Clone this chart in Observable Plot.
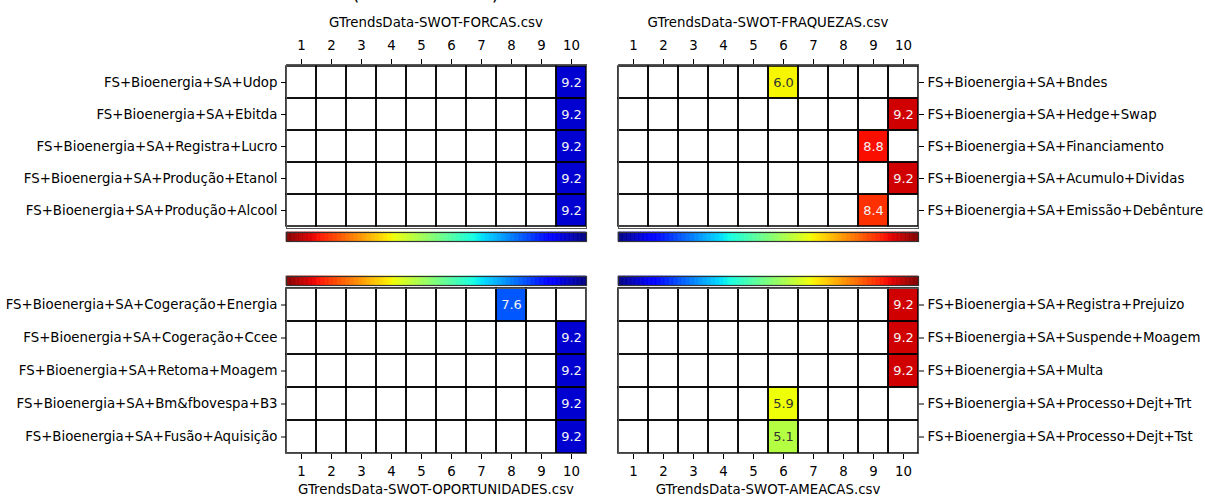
<!DOCTYPE html>
<html><head><meta charset="utf-8">
<script src="https://cdn.jsdelivr.net/npm/d3@7"></script>
<script src="https://cdn.jsdelivr.net/npm/@observablehq/plot@0.6"></script>
<style>
html,body{margin:0;padding:0;background:#fff;overflow:hidden}
#fig{position:relative;width:1205px;height:497px;font-family:"DejaVu Sans",sans-serif;color:#000;overflow:hidden}
#fig > *{position:absolute}
.title{font-size:13.33px;text-align:center;width:300px;line-height:16px;white-space:nowrap}
.sup{font-size:19px;line-height:20px;white-space:nowrap}
</style></head><body><div id="fig"></div>
<script>
// ---------- data ----------
const columns = [1, 2, 3, 4, 5, 6, 7, 8, 9, 10];

const forcasTitle = "GTrendsData-SWOT-FORCAS.csv";
const forcasRows = ["FS+Bioenergia+SA+Udop", "FS+Bioenergia+SA+Ebitda", "FS+Bioenergia+SA+Registra+Lucro", "FS+Bioenergia+SA+Produção+Etanol", "FS+Bioenergia+SA+Produção+Alcool"];
const forcasCols = [10, 10, 10, 10, 10];
const forcasVals = [9.2, 9.2, 9.2, 9.2, 9.2];

const fraquezasTitle = "GTrendsData-SWOT-FRAQUEZAS.csv";
const fraquezasRows = ["FS+Bioenergia+SA+Bndes", "FS+Bioenergia+SA+Hedge+Swap", "FS+Bioenergia+SA+Financiamento", "FS+Bioenergia+SA+Acumulo+Dividas", "FS+Bioenergia+SA+Emissão+Debênture"];
const fraquezasCols = [6, 10, 9, 10, 9];
const fraquezasVals = [6.0, 9.2, 8.8, 9.2, 8.4];

const oportTitle = "GTrendsData-SWOT-OPORTUNIDADES.csv";
const oportRows = ["FS+Bioenergia+SA+Cogeração+Energia", "FS+Bioenergia+SA+Cogeração+Ccee", "FS+Bioenergia+SA+Retoma+Moagem", "FS+Bioenergia+SA+Bm&fbovespa+B3", "FS+Bioenergia+SA+Fusão+Aquisição"];
const oportCols = [8, 10, 10, 10, 10];
const oportVals = [7.6, 9.2, 9.2, 9.2, 9.2];

const ameacasTitle = "GTrendsData-SWOT-AMEACAS.csv";
const ameacasRows = ["FS+Bioenergia+SA+Registra+Prejuizo", "FS+Bioenergia+SA+Suspende+Moagem", "FS+Bioenergia+SA+Multa", "FS+Bioenergia+SA+Processo+Dejt+Trt", "FS+Bioenergia+SA+Processo+Dejt+Tst"];
const ameacasCols = [10, 10, 10, 6, 6];
const ameacasVals = [9.2, 9.2, 9.2, 5.9, 5.1];

const supTitle = "(Análise SWOT)";
const colorDomain = [-1.4, 10];

// ---------- jet colormap ----------
function seg(pts, t) {
  for (let i = 1; i < pts.length; i++) {
    if (t <= pts[i][0]) {
      const [x0, y0] = pts[i - 1], [x1, y1] = pts[i];
      return y0 + (y1 - y0) * (t - x0) / (x1 - x0);
    }
  }
  return pts[pts.length - 1][1];
}
const JR = [[0, 0], [0.35, 0], [0.66, 1], [0.89, 1], [1, 0.5]];
const JG = [[0, 0], [0.125, 0], [0.375, 1], [0.64, 1], [0.91, 0], [1, 0]];
const JB = [[0, 0.5], [0.11, 1], [0.34, 1], [0.65, 0], [1, 0]];
function jet(t) {
  t = Math.max(0, Math.min(1, t));
  return d3.rgb(255 * seg(JR, t), 255 * seg(JG, t), 255 * seg(JB, t)).formatHex();
}

const fig = document.getElementById("fig");
const FONT = {fontFamily: "DejaVu Sans", fontSize: "13.33px"};

function place(el, left, top) {
  el.style.left = left + "px";
  el.style.top = top + "px";
  fig.appendChild(el);
}

function heatmap(o) {
  const interp = o.reversed ? (t => jet(1 - t)) : (t => jet(t));
  const grid = o.rows.flatMap(r => columns.map(c => ({r, c})));
  const data = o.rows.map((r, i) => ({r, c: o.cols[i], v: o.vals[i]}));
  const tOf = v => (v - colorDomain[0]) / (colorDomain[1] - colorDomain[0]);
  const isDark = d => d3.lab(interp(tOf(d.v))).l > 65;
  const p = Plot.plot({
    width: o.width, height: o.height,
    marginTop: o.mt, marginBottom: o.mb, marginLeft: o.ml, marginRight: o.mr,
    style: FONT,
    x: {type: "band", domain: columns, padding: 0, axis: o.xAxis, tickSize: 6, tickPadding: o.xAxis === "top" ? 9 : 7, label: null},
    y: {type: "band", domain: o.rows, padding: 0, axis: o.yAxis, tickSize: 5, tickPadding: 4, label: null},
    color: {type: "linear", domain: colorDomain, interpolate: interp},
    marks: [
      Plot.cell(grid, {x: "c", y: "r", fill: "white", inset: 0}),
      Plot.cell(data, {x: "c", y: "r", fill: "v", inset: 0}),
      Plot.cell(grid, {x: "c", y: "r", fill: "none", stroke: "black", strokeWidth: 1.5, inset: 0}),
      Plot.frame({stroke: "#555", strokeWidth: 1}),
      Plot.text(data.filter(d => !isDark(d)), {x: "c", y: "r", text: d => d.v.toFixed(1), fill: "#f2f2f2", fontSize: 13}),
      Plot.text(data.filter(isDark), {x: "c", y: "r", text: d => d.v.toFixed(1), fill: "#333", fontSize: 13})
    ]
  });
  place(p, o.left, o.top);
}

const steps = d3.range(colorDomain[0], colorDomain[1], 0.05); // colorbar gradient sampling
function colorbar(o) {
  const interp = o.reversed ? (t => jet(1 - t)) : (t => jet(t));
  const p = Plot.plot({
    width: o.width, height: 13,
    marginTop: 2, marginBottom: 2, marginLeft: o.ml, marginRight: o.mr,
    x: {domain: colorDomain, axis: null},
    y: {domain: [0, 1], axis: null},
    color: {type: "linear", domain: colorDomain, interpolate: interp},
    marks: [
      Plot.rect(steps, {x1: d => d, x2: d => Math.min(d + 0.05, colorDomain[1]), y1: 0, y2: 1, fill: d => d + 0.025, stroke: d => d + 0.025, strokeWidth: 0.6, inset: 0}),
      Plot.frame({stroke: "#333", strokeWidth: 1.2})
    ]
  });
  place(p, o.left, o.top);
}

function title(text, left, top) {
  const d = document.createElement("div");
  d.className = "title";
  d.textContent = text;
  place(d, left, top);
}

// top-left: FORCAS
heatmap({rows: forcasRows, cols: forcasCols, vals: forcasVals, reversed: true,
  xAxis: "top", yAxis: "left", left: 0, top: 0, width: 600, height: 232, mt: 64, mb: 4, ml: 286, mr: 14});
// top-right: FRAQUEZAS
heatmap({rows: fraquezasRows, cols: fraquezasCols, vals: fraquezasVals, reversed: false,
  xAxis: "top", yAxis: "right", left: 600, top: 0, width: 605, height: 232, mt: 64, mb: 4, ml: 18, mr: 287});
// bottom-left: OPORTUNIDADES
heatmap({rows: oportRows, cols: oportCols, vals: oportVals, reversed: true,
  xAxis: "bottom", yAxis: "left", left: 0, top: 280, width: 600, height: 217, mt: 8, mb: 44, ml: 286, mr: 14});
// bottom-right: AMEACAS
heatmap({rows: ameacasRows, cols: ameacasCols, vals: ameacasVals, reversed: false,
  xAxis: "bottom", yAxis: "right", left: 600, top: 280, width: 605, height: 217, mt: 8, mb: 44, ml: 18, mr: 287});

colorbar({reversed: true, left: 0, top: 230, width: 600, ml: 286, mr: 14});
colorbar({reversed: false, left: 600, top: 230, width: 605, ml: 18, mr: 287});
colorbar({reversed: true, left: 0, top: 274, width: 600, ml: 286, mr: 14});
colorbar({reversed: false, left: 600, top: 274, width: 605, ml: 18, mr: 287});

title(forcasTitle, 286, 15);
title(fraquezasTitle, 618, 15);
title(oportTitle, 286, 482);
title(ameacasTitle, 618, 482);

const sup = document.createElement("div");
sup.className = "sup";
sup.textContent = supTitle;
place(sup, 352, -17);
</script>
</body></html>
